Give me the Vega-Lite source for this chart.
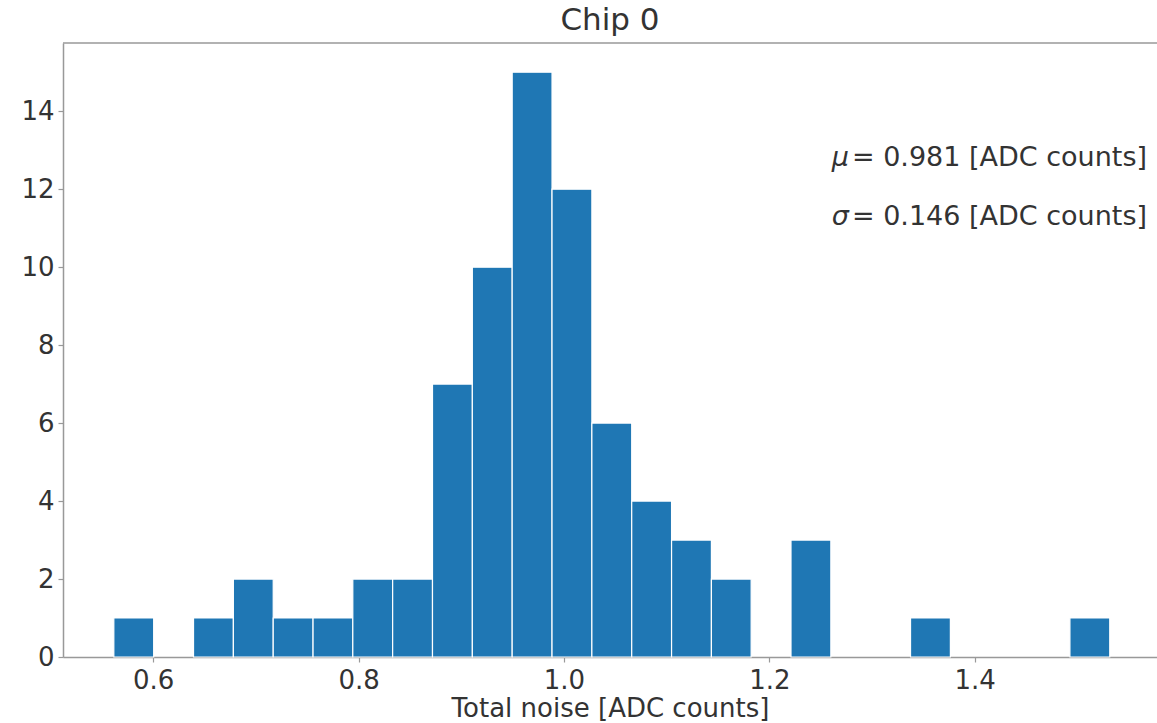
{
  "$schema": "https://vega.github.io/schema/vega-lite/v6.json",
  "autosize": "none",
  "width": 1094,
  "height": 614,
  "padding": {"left": 63, "top": 43, "right": 0, "bottom": 66},
  "background": "white",
  "title": {"text": "Chip 0", "fontSize": 31, "font": "DejaVu Sans", "fontWeight": "normal", "color": "#333333", "offset": 5, "anchor": "middle"},
  "config": {
    "view": {"stroke": null},
    "font": "DejaVu Sans",
    "axis": {"domainColor": "#999999", "domainWidth": 1.5, "tickColor": "#999999", "tickSize": 5, "tickWidth": 1.2, "labelColor": "#333333", "labelFontSize": 26, "labelFont": "DejaVu Sans", "titleFont": "DejaVu Sans", "titleFontSize": 26, "titleFontWeight": "normal", "titleColor": "#333333", "grid": false}
  },
  "layer": [
    {
      "data": {"values": [
        {"bin_start": 0.5617, "bin_end": 0.6005, "count": 1},
        {"bin_start": 0.6393, "bin_end": 0.6781, "count": 1},
        {"bin_start": 0.6781, "bin_end": 0.7169, "count": 2},
        {"bin_start": 0.7169, "bin_end": 0.7557, "count": 1},
        {"bin_start": 0.7557, "bin_end": 0.7944, "count": 1},
        {"bin_start": 0.7944, "bin_end": 0.8332, "count": 2},
        {"bin_start": 0.8332, "bin_end": 0.8720, "count": 2},
        {"bin_start": 0.8720, "bin_end": 0.9108, "count": 7},
        {"bin_start": 0.9108, "bin_end": 0.9496, "count": 10},
        {"bin_start": 0.9496, "bin_end": 0.9884, "count": 15},
        {"bin_start": 0.9884, "bin_end": 1.0272, "count": 12},
        {"bin_start": 1.0272, "bin_end": 1.0660, "count": 6},
        {"bin_start": 1.0660, "bin_end": 1.1048, "count": 4},
        {"bin_start": 1.1048, "bin_end": 1.1436, "count": 3},
        {"bin_start": 1.1436, "bin_end": 1.1823, "count": 2},
        {"bin_start": 1.2211, "bin_end": 1.2599, "count": 3},
        {"bin_start": 1.3375, "bin_end": 1.3763, "count": 1},
        {"bin_start": 1.4927, "bin_end": 1.5315, "count": 1}
      ]},
      "mark": {"type": "bar", "color": "#1f77b4", "stroke": "white", "strokeWidth": 1.2},
      "encoding": {
        "x": {"field": "bin_start", "type": "quantitative", "scale": {"domain": [0.5122, 1.5775], "nice": false, "zero": false},
              "axis": {"values": [0.6, 0.8, 1.0, 1.2, 1.4], "format": ".1f", "title": "Total noise [ADC counts]", "labelPadding": 5, "titlePadding": 2}},
        "x2": {"field": "bin_end"},
        "y": {"field": "count", "type": "quantitative", "scale": {"domain": [0, 15.75], "nice": false},
              "axis": {"values": [0, 2, 4, 6, 8, 10, 12, 14], "format": "d", "title": null, "labelPadding": 4}},
        "y2": {"datum": 0}
      }
    },
    {
      "data": {"values": [
        {"label": "= 0.981 [ADC counts]", "x": 1.5678, "y": 12.8},
        {"label": "= 0.146 [ADC counts]", "x": 1.5678, "y": 11.29}
      ]},
      "mark": {"type": "text", "align": "right", "baseline": "middle", "fontSize": 27, "font": "DejaVu Sans", "color": "#333333"},
      "encoding": {
        "x": {"field": "x", "type": "quantitative"},
        "y": {"field": "y", "type": "quantitative"},
        "text": {"field": "label"}
      }
    },
    {
      "data": {"values": [
        {"x": 1.2609, "y": 12.8, "sym": "μ"},
        {"x": 1.2609, "y": 11.29, "sym": "σ"}
      ]},
      "mark": {"type": "text", "align": "left", "baseline": "middle", "fontSize": 27, "font": "DejaVu Sans", "fontStyle": "italic", "color": "#333333"},
      "encoding": {
        "x": {"field": "x", "type": "quantitative"},
        "y": {"field": "y", "type": "quantitative"},
        "text": {"field": "sym"}
      }
    },
    {
      "data": {"values": [{"top": 15.75}]},
      "mark": {"type": "rule", "color": "#999999", "strokeWidth": 1.5},
      "encoding": {"y": {"field": "top", "type": "quantitative"}}
    }
  ]
}
